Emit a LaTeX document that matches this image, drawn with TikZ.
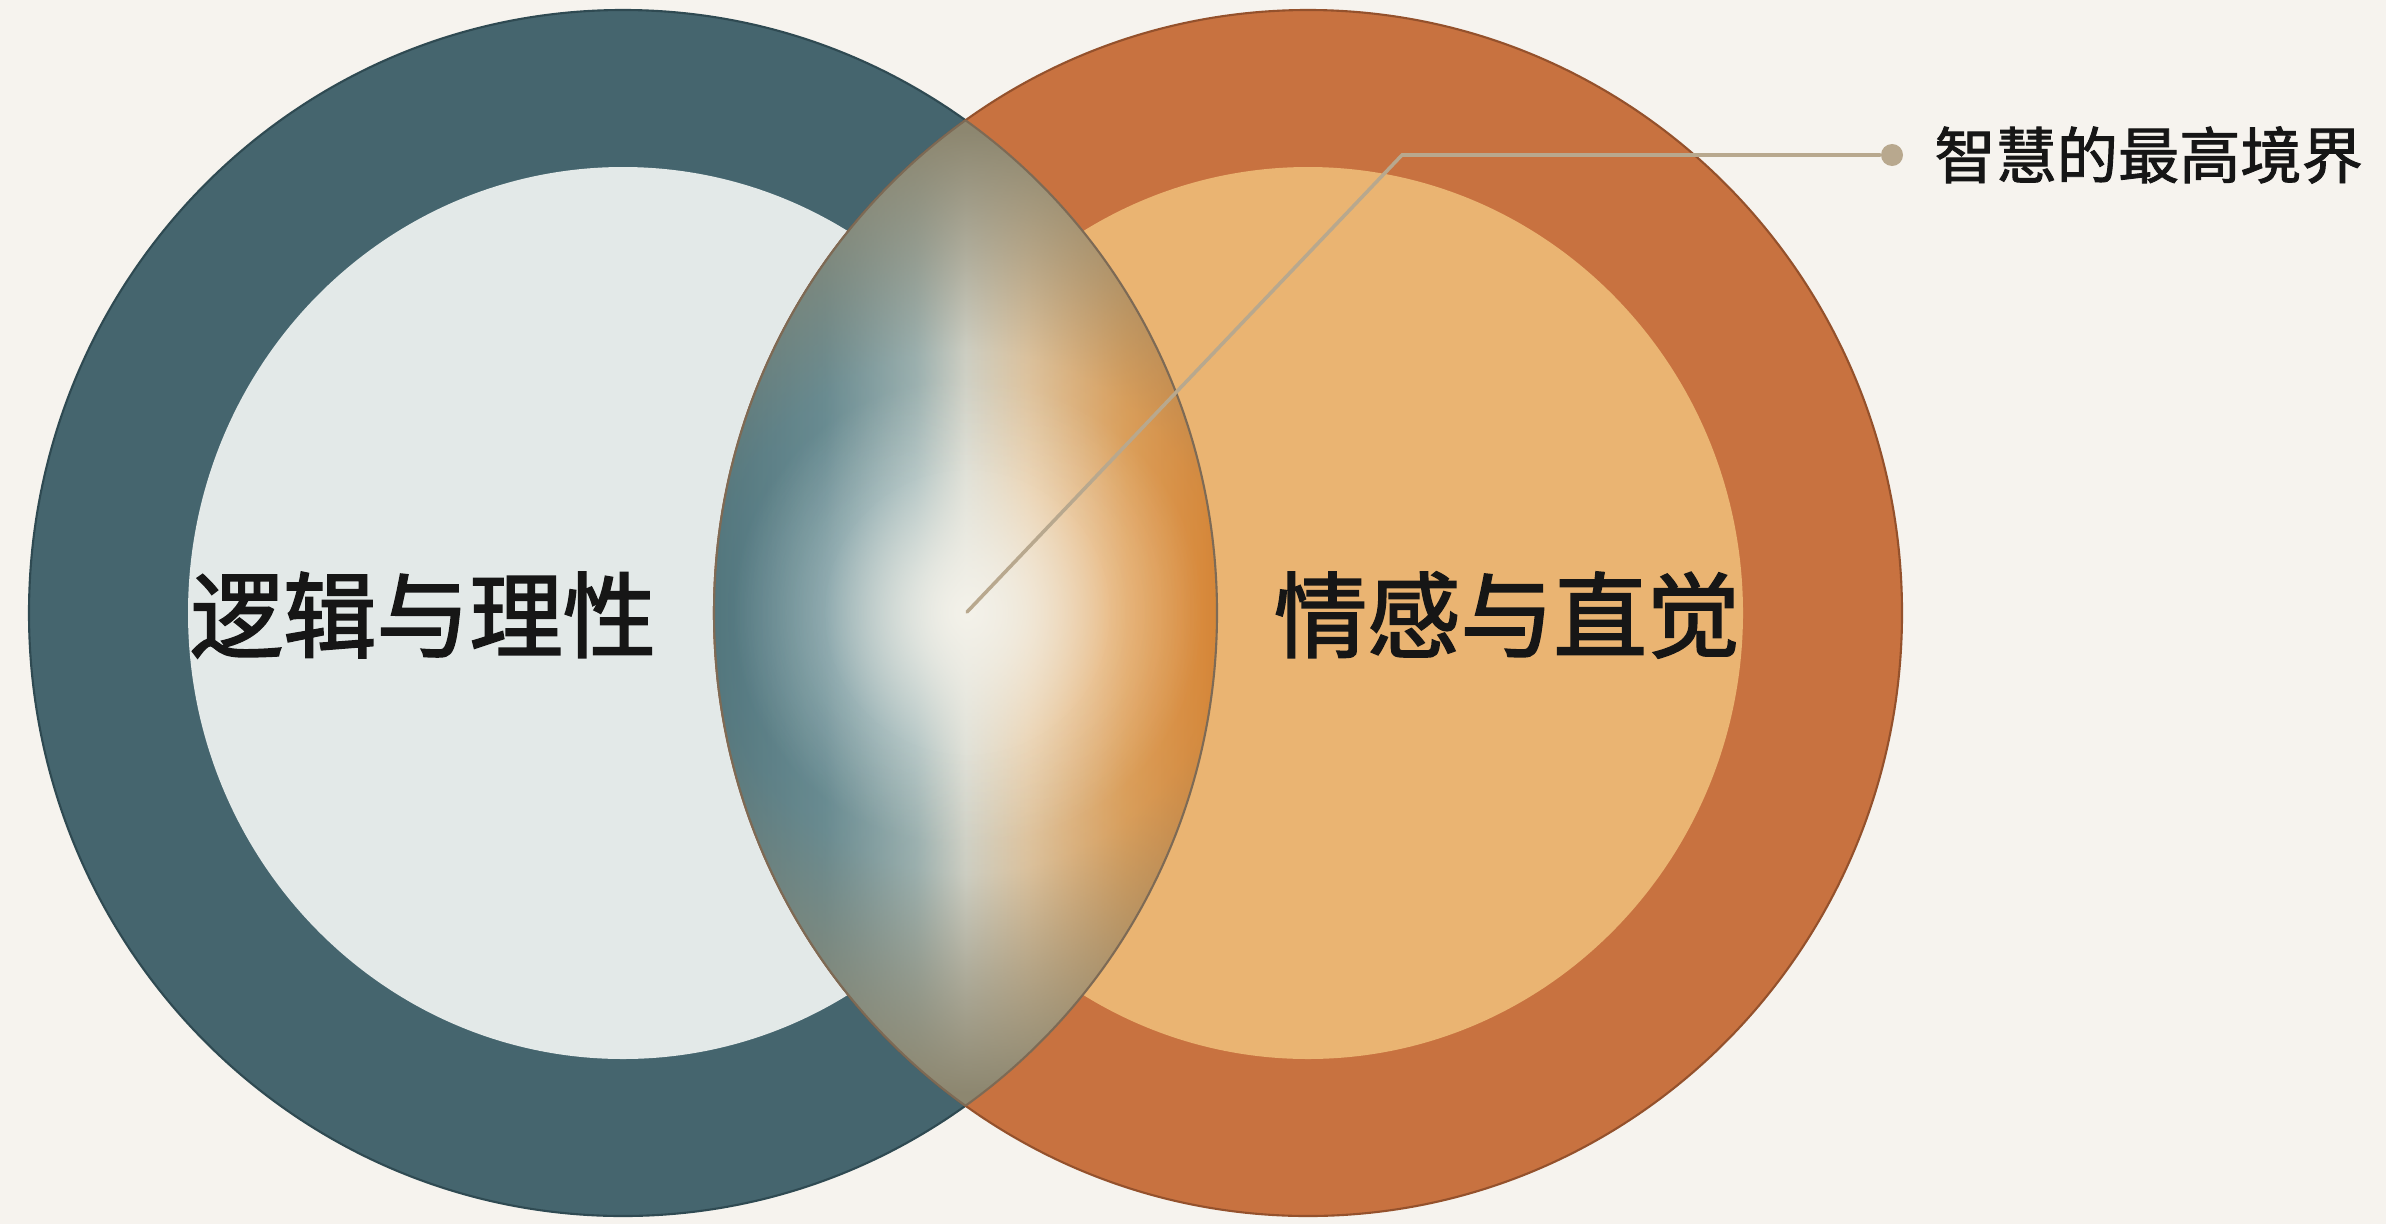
\documentclass[tikz,border=0pt]{standalone}
\usepackage{fontspec}
\newfontfamily\cjk[FakeBold=2]{Noto Sans CJK SC}
\newfontfamily\cjksmall[FakeBold=1.5]{Noto Sans CJK SC}
\usetikzlibrary{fadings,positioning}
\definecolor{paper}{HTML}{F6F3EE}
\definecolor{ink}{HTML}{161616}
\definecolor{logicring}{HTML}{45656E}
\definecolor{logicedge}{HTML}{2F4A52}
\definecolor{logicface}{HTML}{E3E9E8}
\definecolor{feelring}{HTML}{C87240}
\definecolor{feeledge}{HTML}{94512C}
\definecolor{feelface}{HTML}{EAB472}
\definecolor{lensteal}{HTML}{4A7480}
\definecolor{lenstealmid}{HTML}{648C96}
\definecolor{lensmist}{HTML}{9DB6B8}
\definecolor{lenscore}{HTML}{D8DAD0}
\definecolor{lenssand}{HTML}{E8CCA6}
\definecolor{lensamber}{HTML}{E5A258}
\definecolor{lensorange}{HTML}{E1862F}
\definecolor{lensglow}{HTML}{F4F2EA}
\definecolor{lensrimcol}{HTML}{8D8770}
\definecolor{lensedge}{HTML}{7D6A55}
\definecolor{pin}{HTML}{B8A88E}
\pgfdeclarehorizontalshading{lensaxis}{100bp}{color(0bp)=(lensteal); color(25bp)=(lensteal); color(36bp)=(lenstealmid); color(45bp)=(lensmist); color(50bp)=(lenscore); color(56bp)=(lenssand); color(66bp)=(lensamber); color(75bp)=(lensorange); color(100bp)=(lensorange)}
\pgfdeclareradialshading{lensrimshade}{\pgfpointorigin}{color(0bp)=(pgftransparent!100); color(7bp)=(pgftransparent!100); color(13bp)=(pgftransparent!85); color(18bp)=(pgftransparent!45); color(24bp)=(pgftransparent!0); color(50bp)=(pgftransparent!0)}
\pgfdeclarefading{lensrim}{\pgfuseshading{lensrimshade}}
\pgfdeclareradialshading{lensglowshade}{\pgfpointorigin}{color(0bp)=(pgftransparent!0); color(6bp)=(pgftransparent!25); color(15bp)=(pgftransparent!70); color(25bp)=(pgftransparent!100); color(50bp)=(pgftransparent!100)}
\pgfdeclarefading{lensglowfade}{\pgfuseshading{lensglowshade}}
\begin{document}
\begin{tikzpicture}[x=0.01cm, y=-0.01cm,
  ring/.style={line width=0.6pt},
  outer/.style={x radius=594, y radius=603},
  inner/.style={x radius=435, y radius=446},
  bigtext/.style={font=\cjk\fontsize{26.5pt}{30pt}\selectfont, text=ink, inner sep=0pt},
  smalltext/.style={font=\cjksmall\fontsize{17.4pt}{20pt}\selectfont, text=ink, inner sep=0pt},
  pinline/.style={draw=pin, line width=1pt, line cap=round}] %[every node/.style={draw}]
\fill[paper] (0,0) rectangle (2386,1224);
\useasboundingbox (0,0) rectangle (2386,1224);
\coordinate (logic) at (623,613);
\coordinate (feel) at (1308,613);
\coordinate (core) at (967,612);
\coordinate (bend) at (1402,155);
\draw[ring, fill=logicring, draw=logicedge] (logic) ellipse[outer];
\fill[logicface] (logic) ellipse[inner];
\draw[ring, fill=feelring, draw=feeledge] (feel) ellipse[outer];
\fill[feelface] (feel) ellipse[inner];
% overlap of the two circles
\begin{scope}
\clip (logic) ellipse[outer];
\clip (feel) ellipse[outer];
\shade[shading=lensaxis] (714,100) rectangle (1217,1125);
\fill[lensglow, path fading=lensglowfade] (core) circle[radius=235];
\fill[lensrimcol, path fading=lensrim] (core) circle[radius=500];
\end{scope}
\begin{scope}
\clip (logic) ellipse[outer];
\draw[ring, draw=lensedge] (feel) ellipse[outer];
\end{scope}
\begin{scope}
\clip (feel) ellipse[outer];
\draw[ring, draw=lensedge] (logic) ellipse[outer];
\end{scope}
\node (dot) [circle, fill=pin, minimum size=0.22cm, inner sep=0pt] at (1892,155) {};
\draw[pinline] (core) -- (bend) -- (dot);
\node (wisdom) [smalltext, right=0.3cm of dot] {智慧的最高境界};
\node (logictext) [bigtext] at (423,615) {逻辑与理性};
\node (feeltext) [bigtext] at (1507,615) {情感与直觉};
\end{tikzpicture}
\end{document}
